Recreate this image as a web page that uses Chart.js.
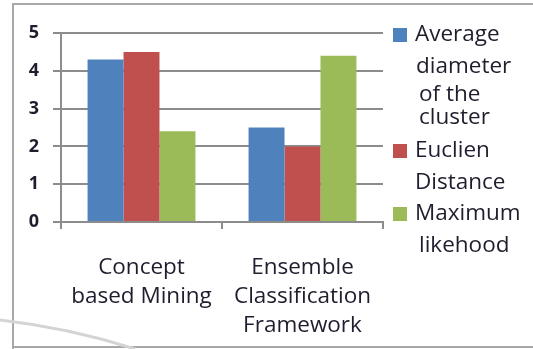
<!DOCTYPE html>
<html>
<head>
<meta charset="utf-8">
<script src="https://cdn.jsdelivr.net/npm/chart.js@4/dist/chart.umd.min.js"></script>
<style>
  html, body { margin: 0; padding: 0; background: #fff; }
  #wrap { width: 533px; height: 349px; position: relative; }
</style>
</head>
<body>
<div id="wrap"><canvas id="main-chart" width="533" height="349"></canvas></div>
<script>
// data
var categories = [['Concept', 'based Mining'], ['Ensemble', 'Classification', 'Framework']];
var seriesNames = [
	['Average', 'diameter', 'of the', 'cluster'],
	['Euclien', 'Distance'],
	['Maximum', 'likehood']
];
var avgDiameter = [4.3, 2.5];
var euclienDistance = [4.5, 2.0];
var maxLikehood = [2.4, 4.4];
var yTicks = [0, 1, 2, 3, 4, 5];

var colors = ['#4f81bd', '#c0504d', '#9bbb59'];
var gridColor = '#8c8c8c';
var textColor = '#1e1e2e';
var fontFamily = '"Open Sans", "Noto Sans", sans-serif';

// legend drawn by hand, text wraps like the original
var sideLegend = {
	id: 'sideLegend',
	afterDraw: function (chart) {
		var ctx = chart.ctx;
		var lineYs = [[35, 67, 95, 118], [151, 183], [214, 246]];
		var indents = [[0, 1, 4, 4], [0, 0], [0, 4]];
		ctx.save();
		ctx.font = '22.5px ' + fontFamily;
		ctx.textBaseline = 'middle';
		chart.data.datasets.forEach(function (ds, i) {
			var ys = lineYs[i];
			ctx.fillStyle = ds.backgroundColor;
			ctx.fillRect(393, ys[0] - 7, 14, 14);
			ctx.fillStyle = textColor;
			ds.legendLines.forEach(function (txt, j) {
				ctx.fillText(txt, 415 + indents[i][j], ys[j]);
			});
		});
		ctx.restore();
	}
};

// outer frame of the figure
var frame = {
	id: 'frame',
	beforeDraw: function (chart) {
		var ctx = chart.ctx;
		ctx.save();
		ctx.fillStyle = '#fff';
		ctx.fillRect(0, 0, chart.width, chart.height);
		ctx.strokeStyle = '#a8a8a8';
		ctx.lineWidth = 2;
		ctx.beginPath();
		ctx.moveTo(13, 349);
		ctx.lineTo(13, 4);
		ctx.lineTo(533, 4);
		ctx.moveTo(13, 347);
		ctx.lineTo(533, 347);
		ctx.stroke();
		ctx.strokeStyle = '#d4d4d4';
		ctx.lineWidth = 3;
		ctx.beginPath();
		ctx.moveTo(0, 320);
		ctx.quadraticCurveTo(70, 328, 135, 349);
		ctx.stroke();
		ctx.restore();
	}
};

function make() {
	var ctx = document.getElementById('main-chart');

	return new Chart(ctx, {
		type: 'bar',
		data: {
			labels: categories,
			datasets: [
				{ label: seriesNames[0].join(' '), legendLines: seriesNames[0], data: avgDiameter, backgroundColor: colors[0] },
				{ label: seriesNames[1].join(' '), legendLines: seriesNames[1], data: euclienDistance, backgroundColor: colors[1] },
				{ label: seriesNames[2].join(' '), legendLines: seriesNames[2], data: maxLikehood, backgroundColor: colors[2] }
			]
		},
		options: {
			responsive: false,
			animation: false,
			layout: { padding: { left: 0, top: 33, right: 150, bottom: 0 } },
			datasets: { bar: { categoryPercentage: 0.67, barPercentage: 1.0 } },
			plugins: { legend: { display: false }, tooltip: { enabled: false } },
			scales: {
				x: {
					grid: { drawOnChartArea: false, drawTicks: true, tickLength: 7, color: gridColor, lineWidth: 2 },
					border: { display: true, color: gridColor, width: 2 },
					ticks: {
						color: textColor,
						padding: 24,
						maxRotation: 0,
						autoSkip: false,
						font: { family: fontFamily, size: 22.5, lineHeight: 1.29 }
					},
					afterFit: function (scale) { scale.height = 127; }
				},
				y: {
					min: 0,
					max: 5,
					afterBuildTicks: function (scale) {
						scale.ticks = yTicks.map(function (v) { return { value: v }; });
					},
					grid: { color: gridColor, lineWidth: 2, tickLength: 8 },
					border: { display: true, color: gridColor, width: 2 },
					ticks: {
						color: textColor,
						padding: 14,
						font: { family: fontFamily, size: 18, weight: 'bold' }
					},
					afterFit: function (scale) { scale.width = 61; }
				}
			}
		},
		plugins: [frame, sideLegend]
	});
}

make();
</script>
</body>
</html>
